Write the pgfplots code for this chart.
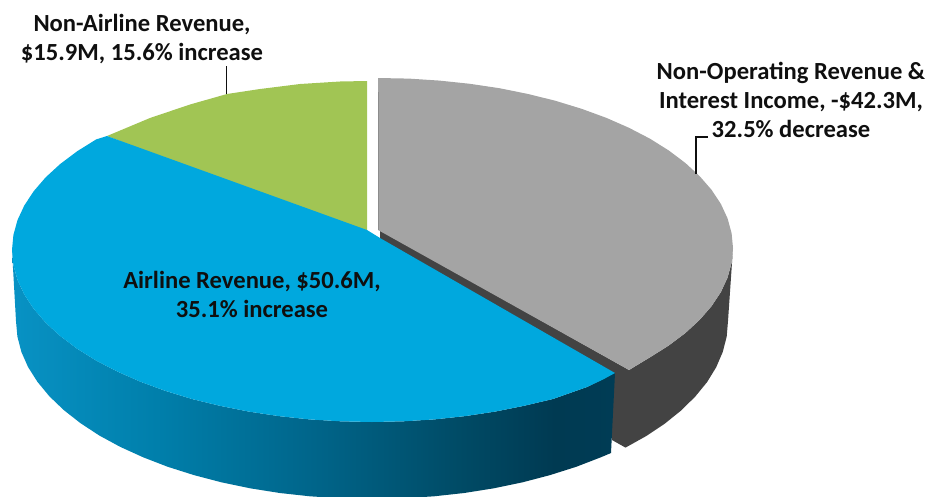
\documentclass[border=0pt]{standalone}
\usepackage{fontspec}
\setmainfont{Carlito}
\usepackage{pgfplots}
\pgfplotsset{compat=1.18}
\definecolor{pieblue}{RGB}{0,168,222}
\definecolor{piegreen}{RGB}{161,197,84}
\definecolor{piegray}{RGB}{164,164,164}
\definecolor{piedark}{RGB}{67,67,67}
\definecolor{inktext}{RGB}{15,15,15}
\definecolor{bs0}{RGB}{8,146,196}
\definecolor{bs1}{RGB}{0,127,171}
\definecolor{bs2}{RGB}{0,101,138}
\definecolor{bs3}{RGB}{0,75,102}
\definecolor{bs4}{RGB}{0,58,82}
\definecolor{bs5}{RGB}{0,60,85}
% side of the blue slice, 25bp..75bp spans the slice from left to right
\pgfdeclarehorizontalshading{blueside}{100bp}{
  color(0bp)=(bs0);
  color(25bp)=(bs0);
  color(37bp)=(bs1);
  color(50bp)=(bs2);
  color(62bp)=(bs3);
  color(70bp)=(bs4);
  color(75bp)=(bs5);
  color(100bp)=(bs5)}
\tikzset{lbl/.style={font=\fontsize{24.6}{29}\selectfont\bfseries, text=inktext, align=center, inner sep=0pt}}
\begin{document}
\begin{tikzpicture}
\path[use as bounding box] (0,0) rectangle (931pt,496pt);
\begin{axis}[
  at={(0,0)}, anchor=south west,
  scale only axis, width=931pt, height=496pt,
  xmin=0, xmax=931, ymin=0, ymax=496, y dir=reverse,
  hide axis]
% gray slice: side wall and cut face
\addplot[fill=piedark, draw=none] coordinates {
  (380,230) (629,370) (650,357.3) (668.8,345.5) (685.4,333) (699.6,319.9) (711.6,306.1)
  (720.9,292) (727.6,277.5) (731.6,262.8) (733,248)
  (728,321) (726.7,336.6) (722.7,352.1) (716.1,367.4) (707,382.2) (695.2,396.6)
  (681.1,410.5) (664.7,423.7) (646.1,436.1) (625.5,447.6) (612,440) (610,380) (380,245)
} -- cycle;
% gray slice: top
\addplot[fill=piegray, draw=none] coordinates {
  (378,230) (378,78) (408.9,78.6) (439.6,80.6) (469.9,83.8) (499.4,88.2) (528.2,94)
  (555.5,100.8) (581.6,108.8) (606.2,117.8) (629,127.8) (650,138.7) (668.8,150.5)
  (685.4,163) (699.6,176.1) (711.6,189.9) (720.9,204) (727.6,218.5) (731.6,233.2)
  (733,248) (731.6,262.8) (727.6,277.5) (720.9,292) (711.6,306.1) (699.6,319.9)
  (685.4,333) (668.8,345.5) (650,357.3) (629,370)
} -- cycle;
\addplot[color=black!45, line width=0.8pt] coordinates {(378.4,92) (378.4,230)};
% green slice
\addplot[fill=piegreen, draw=none] coordinates {
  (367,235) (367,81) (340,81.5) (300,84) (260,89) (227,94) (190,104.5) (150,118) (107,136)
} -- cycle;
% blue slice: side wall
\addplot[shading=blueside, draw=none] coordinates {
  (12,250) (13.4,265) (17.5,279.9) (24.3,294.5) (33.7,308.8) (45.7,322.7) (60.2,336)
  (77.1,348.7) (96.2,360.6) (117.5,371.6) (140.6,381.8) (165.5,390.9) (192,399)
  (219.9,405.8) (248.9,411.6) (278.8,416.1) (309.5,419.4) (340.6,421.3) (372,422)
  (403.4,421.3) (434.5,419.4) (465.2,416.1) (495.1,411.6) (524.1,405.8) (553,399)
  (587,387) (615,373) (611,453) (600.8,457.3) (576.2,466.8) (550,475.1) (522.6,482.3)
  (493.8,488.3) (464.2,493) (434,496.3) (403,498.3) (372,499) (341,498.3) (310,496.3)
  (279.8,493) (250.2,488.3) (221.4,482.3) (194,475.1) (167.8,466.8) (143.2,457.3)
  (120.3,446.9) (99.3,435.5) (80.4,423.1) (63.7,410) (49.4,396.3) (37.5,381.9)
  (28.1,367.1) (21.4,352) (17.4,336.5) (16,321)
} -- cycle;
% blue slice: top
\addplot[fill=pieblue, draw=none] coordinates {
  (367,230) (107,136) (96.2,139.4) (77.1,151.3) (60.2,164) (45.7,177.3) (33.7,191.2)
  (24.3,205.5) (17.5,220.1) (13.4,235) (12,250) (13.4,265) (17.5,279.9) (24.3,294.5)
  (33.7,308.8) (45.7,322.7) (60.2,336) (77.1,348.7) (96.2,360.6) (117.5,371.6)
  (140.6,381.8) (165.5,390.9) (192,399) (219.9,405.8) (248.9,411.6) (278.8,416.1)
  (309.5,419.4) (340.6,421.3) (372,422) (403.4,421.3) (434.5,419.4) (465.2,416.1)
  (495.1,411.6) (524.1,405.8) (553,399) (587,387) (603,379.5) (615,373) (380,238)
} -- cycle;
% leader lines
\addplot[color=inktext, line width=1.6pt] coordinates {(226.5,94) (226.5,66)};
\addplot[color=inktext, line width=1.6pt] coordinates {(696,174) (696,137) (708,137)};
\node[lbl] at (axis cs:142,39.5) {Non-Airline Revenue,\\\$15.9M, 15.6\% increase};
\node[lbl] at (axis cs:791,100) {Non-Operating Revenue \&\\Interest Income, -\$42.3M,\\32.5\% decrease};
\node[lbl] at (axis cs:252,294.5) {Airline Revenue, \$50.6M,\\35.1\% increase};
\end{axis}
\end{tikzpicture}
\end{document}
